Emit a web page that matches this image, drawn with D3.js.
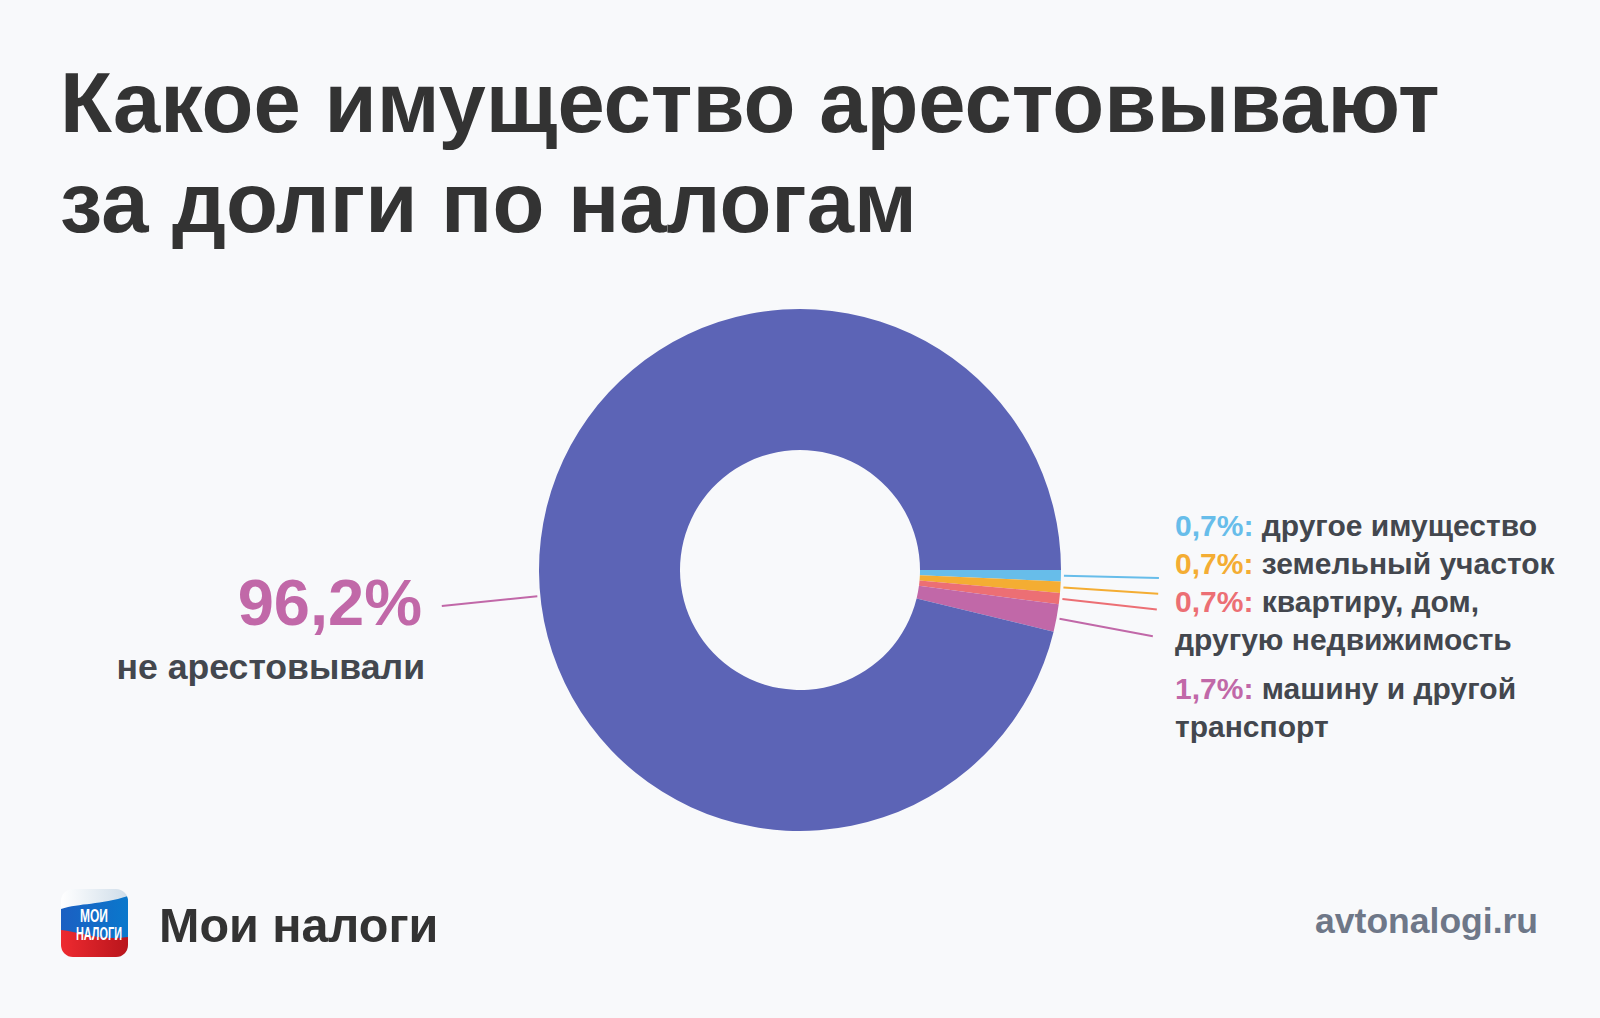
<!DOCTYPE html>
<html><head><meta charset="utf-8">
<script src="https://cdn.jsdelivr.net/npm/d3@7"></script>
<style>html,body{margin:0;padding:0;background:#f8f9fb;} svg{display:block}</style>
</head><body>
<svg id="chart" width="1600" height="1018"></svg>
<script>
// ---- data ----
const titleLines = ["Какое имущество арестовывают", "за долги по налогам"];
const categories = ["другое имущество", "земельный участок", "квартиру, дом, другую недвижимость", "машину и другой транспорт", "не арестовывали"];
const values = [0.7, 0.7, 0.7, 1.7, 96.2];
const colors = ["#67bdea", "#f4ad33", "#ec6f74", "#c168a8", "#5c64b6"];
const labelLines = [["другое имущество"], ["земельный участок"], ["квартиру, дом,", "другую недвижимость"], ["машину и другой", "транспорт"], ["не арестовывали"]];
const brandName = "Мои налоги";
const logoLines = ["МОИ", "НАЛОГИ"];
const siteName = "avtonalogi.ru";

// ---- layout ----
const W = 1600, H = 1018;
const cx = 800, cy = 570, rIn = 120, rOut = 261;
const font = "'Liberation Sans', Arial, Helvetica, sans-serif";
const dark = "#43474e";
const fmt = v => v.toFixed(1).replace(".", ",") + "%";

const svg = d3.select("#chart");
svg.append("rect").attr("width", W).attr("height", H).attr("fill", "#f8f9fb");

// title
svg.append("g").selectAll("text").data(titleLines).join("text")
  .attr("x", 60).attr("y", (d, i) => 132 + i * 100)
  .attr("font-family", font).attr("font-weight", "bold").attr("font-size", 85)
  .attr("fill", "#333333").text(d => d);

const data = categories.map((c, i) => ({ name: c, value: values[i], color: colors[i], lines: labelLines[i] }));
const pie = d3.pie().sort(null).value(d => d.value)
  .startAngle(Math.PI / 2).endAngle(Math.PI / 2 + 2 * Math.PI);
const arcs = pie(data);
const arc = d3.arc().innerRadius(rIn).outerRadius(rOut);

const g = svg.append("g").attr("transform", `translate(${cx},${cy})`);
g.selectAll("path").data(arcs).join("path")
  .attr("d", arc).attr("fill", d => d.data.color);

// leader lines (radial)
const pt = (a, r) => [r * Math.sin(a), -r * Math.cos(a)];
const small = arcs.slice(0, 4);
g.selectAll("line.lead").data(small).join("line")
  .attr("class", "lead")
  .each(function (d) {
    const a = (d.startAngle + d.endAngle) / 2;
    const p0 = pt(a, 264), p1 = pt(a, 359);
    d3.select(this).attr("x1", p0[0]).attr("y1", p0[1]).attr("x2", p1[0]).attr("y2", p1[1]);
  })
  .attr("stroke", d => d.data.color).attr("stroke-width", 2);

const big = arcs[4];
const bigAngle = 1.5 * Math.PI - 0.1;
{
  const p0 = pt(bigAngle, 264), p1 = pt(bigAngle, 360);
  g.append("line").attr("x1", p0[0]).attr("y1", p0[1]).attr("x2", p1[0]).attr("y2", p1[1])
    .attr("stroke", colors[3]).attr("stroke-width", 2);
}

// right labels
const labelX = 1175;
const baseYs = [536, 574, 612, 699];
const lh = 38;
small.forEach((d, i) => {
  d.data.lines.forEach((ln, j) => {
    const t = svg.append("text").attr("x", labelX).attr("y", baseYs[i] + j * lh)
      .attr("font-family", font).attr("font-weight", "bold").attr("font-size", 30).attr("fill", dark);
    if (j === 0) {
      t.append("tspan").attr("fill", d.data.color).text(fmt(d.data.value) + ":");
      t.append("tspan").text(" " + ln);
    } else t.text(ln);
  });
});

// left label
svg.append("text").attr("x", 422).attr("y", 625).attr("text-anchor", "end")
  .attr("font-family", font).attr("font-weight", "bold").attr("font-size", 65)
  .attr("fill", colors[3]).text(fmt(big.data.value));
svg.append("text").attr("x", 425).attr("y", 679).attr("text-anchor", "end")
  .attr("font-family", font).attr("font-weight", "bold").attr("font-size", 35.6)
  .attr("fill", dark).text(big.data.lines[0]);

// footer logo
const defs = svg.append("defs");
defs.append("clipPath").attr("id", "logoClip").append("rect")
  .attr("x", 61).attr("y", 889).attr("width", 67).attr("height", 68).attr("rx", 12);
const lg = defs.append("linearGradient").attr("id", "redG").attr("x1", 0).attr("x2", 1);
lg.append("stop").attr("offset", 0).attr("stop-color", "#ee2a30");
lg.append("stop").attr("offset", 1).attr("stop-color", "#b9151c");
const bg = defs.append("linearGradient").attr("id", "blueG").attr("x1", 0).attr("x2", 1);
bg.append("stop").attr("offset", 0).attr("stop-color", "#1b5fc2");
bg.append("stop").attr("offset", 1).attr("stop-color", "#0a78cc");
const wg = defs.append("linearGradient").attr("id", "whiteG").attr("x1", 0).attr("x2", 1);
wg.append("stop").attr("offset", 0).attr("stop-color", "#ffffff");
wg.append("stop").attr("offset", 1).attr("stop-color", "#cfdde9");
const logo = svg.append("g").attr("clip-path", "url(#logoClip)");
logo.append("rect").attr("x", 61).attr("y", 889).attr("width", 67).attr("height", 68).attr("fill", "url(#whiteG)");
logo.append("path").attr("d", "M61,909 C80,903 100,905 128,896 L128,940 C100,942 80,934 61,932 Z").attr("fill", "url(#blueG)");
logo.append("path").attr("d", "M61,930 C80,932 100,941 128,937 L128,957 L61,957 Z").attr("fill", "url(#redG)");
logo.selectAll("text").data(logoLines).join("text")
  .attr("x", d => d.length > 3 ? 76 : 80).attr("y", (d, i) => 922 + i * 18)
  .attr("textLength", d => d.length > 3 ? 46 : 28).attr("lengthAdjust", "spacingAndGlyphs")
  .attr("font-family", font)
  .attr("font-weight", "bold").attr("font-size", 17.5).attr("fill", "#fff").text(d => d);

svg.append("text").attr("x", 159).attr("y", 942)
  .attr("font-family", font).attr("font-weight", "bold").attr("font-size", 48.5)
  .attr("fill", "#333333").text(brandName);
svg.append("text").attr("x", 1538).attr("y", 933).attr("text-anchor", "end")
  .attr("font-family", font).attr("font-weight", "bold").attr("font-size", 35.5)
  .attr("fill", "#6e7788").text(siteName);
</script>
</body></html>
